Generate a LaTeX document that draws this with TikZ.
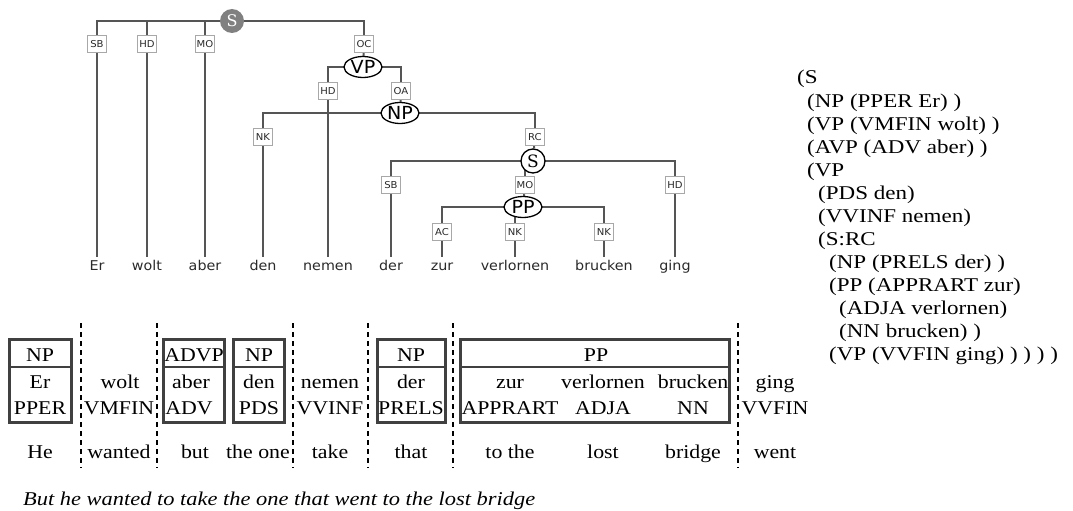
\documentclass[tikz,border=0pt]{standalone}
\usepackage{fontspec}
\setmainfont{Liberation Serif}[FakeStretch=1.12]
\newfontfamily\brkfont{Liberation Serif}[FakeStretch=1.18]
\newfontfamily\itfont{Liberation Serif Italic}[FakeStretch=1.15]
\newfontfamily\dvs{DejaVu Sans}[FakeStretch=1.06]
\newfontfamily\dvserif{DejaVu Serif}
\usetikzlibrary{shapes.geometric,backgrounds}
\definecolor{conngray}{HTML}{555555}
\definecolor{labgray}{HTML}{A8A8A8}
\definecolor{labtext}{HTML}{2A2A2A}
\definecolor{rootgray}{HTML}{808080}
\definecolor{boxgray}{HTML}{404040}
\begin{document}
\begin{tikzpicture}[x=1pt,y=-1pt,
 conn/.style={draw=conngray,line width=2pt},
 lab/.style={draw=labgray,fill=white,line width=1.4pt,font=\dvs\fontsize{9.5}{10}\selectfont,text=labtext,inner sep=1pt,minimum width=19pt,minimum height=17pt},
 phr/.style={ellipse,draw=black,fill=white,line width=1.3pt,font=\dvs\fontsize{18}{19}\selectfont,inner sep=0pt,minimum width=38pt,minimum height=21pt},
 rootc/.style={circle,fill=rootgray,text=white,font=\dvserif\fontsize{16}{18}\selectfont,inner sep=0pt,minimum size=24pt},
 subc/.style={circle,draw=black,fill=white,line width=1.3pt,font=\dvserif\fontsize{17}{18}\selectfont,inner sep=0pt,minimum size=24pt},
 wrd/.style={font=\dvs\fontsize{13.5}{15}\selectfont,text=labtext,anchor=base,inner sep=3pt,text height=9.8pt},
 tb/.style={font=\fontsize{19.5}{24}\selectfont,anchor=base,inner sep=0pt},
 tbox/.style={draw=boxgray,line width=3pt},
 tdiv/.style={draw=boxgray,line width=1.5pt},
 colsep/.style={draw=black,line width=1.2pt,dash pattern=on 5pt off 4pt},
 brk/.style={font=\brkfont\fontsize{19.5}{24}\selectfont,anchor=base west,inner sep=0pt},
]
\useasboundingbox (0,0) rectangle (1073,511);

% ---------- tree ----------
\node[rootc] (s1) at (232,21) {S};
\node[lab] (sb1) at (97,44) {SB};
\node[lab] (hd1) at (147,44) {HD};
\node[lab] (mo1) at (205,44) {MO};
\node[lab] (oc1) at (364,44) {OC};
\node[phr] (vp) at (363,67) {VP};
\node[lab] (hd2) at (328,91) {HD};
\node[lab] (oa) at (401,91) {OA};
\node[phr] (np) at (400,113) {NP};
\node[lab] (nk1) at (263,137) {NK};
\node[lab] (rc) at (535,137) {RC};
\node[subc] (s2) at (533,161) {S};
\node[lab] (sb2) at (391,185) {SB};
\node[lab] (mo2) at (525,185) {MO};
\node[lab] (hd3) at (675,185) {HD};
\node[phr] (pp) at (523,207) {PP};
\node[lab] (ac) at (442,232) {AC};
\node[lab] (nk2) at (515,232) {NK};
\node[lab] (nk3) at (604,232) {NK};

\node[wrd] (wer) at (97,270) {Er};
\node[wrd] (wwolt) at (147,270) {wolt};
\node[wrd] (waber) at (205,270) {aber};
\node[wrd] (wden) at (263,270) {den};
\node[wrd] (wnemen) at (328,270) {nemen};
\node[wrd] (wder) at (391,270) {der};
\node[wrd] (wzur) at (442,270) {zur};
\node[wrd] (wverl) at (515,270) {verlornen};
\node[wrd] (wbru) at (604,270) {brucken};
\node[wrd] (wging) at (675,270) {ging};

\begin{scope}[on background layer]
\foreach \c in {sb1,hd1,mo1,oc1} \draw[conn] (s1.center) -| (\c.north);
\draw[conn] (sb1) -- (wer);
\draw[conn] (hd1) -- (wwolt);
\draw[conn] (mo1) -- (waber);
\draw[conn] (oc1) -- (vp);
\foreach \c in {hd2,oa} \draw[conn] (vp.center) -| (\c.north);
\draw[conn] (hd2) -- (wnemen);
\draw[conn] (oa) -- (np);
\foreach \c in {nk1,rc} \draw[conn] (np.center) -| (\c.north);
\draw[conn] (nk1) -- (wden);
\draw[conn] (rc) -- (s2);
\foreach \c in {sb2,mo2,hd3} \draw[conn] (s2.center) -| (\c.north);
\draw[conn] (sb2) -- (wder);
\draw[conn] (hd3) -- (wging);
\draw[conn] (mo2) -- (pp);
\foreach \c in {ac,nk2,nk3} \draw[conn] (pp.center) -| (\c.north);
\draw[conn] (ac) -- (wzur);
\draw[conn] (nk2) -- (wverl);
\draw[conn] (nk3) -- (wbru);
\end{scope}

% ---------- bracket notation ----------
\foreach \xx/\txt [count=\i from 0] in {797/{(S},807/{(NP (PPER Er) )},807/{(VP (VMFIN wolt) )},807/{(AVP (ADV aber) )},807/{(VP},818/{(PDS den)},818/{(VVINF nemen)},818/{(S:RC},829/{(NP (PRELS der) )},829/{(PP (APPRART zur)},839/{(ADJA verlornen)},839/{(NN brucken) )},829/{(VP (VVFIN ging) ) ) ) )}}
  \node[brk] (br\i) at (\xx,{84+23*\i}) {\txt};

% ---------- table ----------
\foreach \x in {81,157,293,368,453,738} \draw[colsep] (\x,323) -- (\x,468);
\foreach \a/\b in {9.5/71.5,163.5/224.5,233.5/284.5,377.5/445.5,460.5/729.5}{
  \draw[tbox] (\a,339.5) rectangle (\b,422.5);
  \draw[tdiv] (\a,367) -- (\b,367);
}
% headers
\node[tb] (h1) at (40,361) {NP};
\node[tb] (h3) at (194,361) {ADVP};
\node[tb] (h4) at (259,361) {NP};
\node[tb] (h6) at (411,361) {NP};
\node[tb] (h7) at (596,361) {PP};
% words
\node[tb] (r1) at (40,388) {Er};
\node[tb] (r2) at (120,388) {wolt};
\node[tb] (r3) at (191,388) {aber};
\node[tb] (r4) at (259,388) {den};
\node[tb] (r5) at (330,388) {nemen};
\node[tb] (r6) at (411,388) {der};
\node[tb] (r7) at (510,388) {zur};
\node[tb] (r8) at (603,388) {verlornen};
\node[tb] (r9) at (693,388) {brucken};
\node[tb] (r10) at (775,388) {ging};
% tags
\node[tb] (p1) at (40,414) {PPER};
\node[tb] (p2) at (119,414) {VMFIN};
\node[tb] (p3) at (189,414) {ADV};
\node[tb] (p4) at (259,414) {PDS};
\node[tb] (p5) at (330,414) {VVINF};
\node[tb] (p6) at (411,414) {PRELS};
\node[tb] (p7) at (510,414) {APPRART};
\node[tb] (p8) at (603,414) {ADJA};
\node[tb] (p9) at (693,414) {NN};
\node[tb] (p10) at (775,414) {VVFIN};
% glosses
\node[tb] (g1) at (40,458) {He};
\node[tb] (g2) at (119,458) {wanted};
\node[tb] (g3) at (195,458) {but};
\node[tb] (g4) at (258,458) {the one};
\node[tb] (g5) at (330,458) {take};
\node[tb] (g6) at (411,458) {that};
\node[tb] (g7) at (510,458) {to the};
\node[tb] (g8) at (603,458) {lost};
\node[tb] (g9) at (693,458) {bridge};
\node[tb] (g10) at (775,458) {went};
% translation
\node[tb,anchor=base west,font=\itfont\fontsize{19.5}{24}\selectfont] (trans) at (23,505) {But he wanted to take the one that went to the lost bridge};
\end{tikzpicture}
\end{document}
